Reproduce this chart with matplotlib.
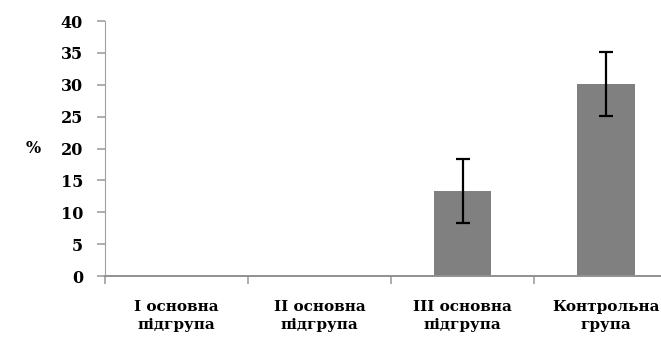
import numpy as np
import matplotlib.pyplot as plt

# Data
categories = ["I основна\nпідгрупа", "II основна\nпідгрупа", "III основна\nпідгрупа", "Контрольна\nгрупа"]
values = [0, 0, 13.3, 30.1]
errors = [0, 0, 5.0, 5.0]
yticks = [0, 5, 10, 15, 20, 25, 30, 35, 40]

fig = plt.figure(figsize=(6.61, 3.46), dpi=100)
# right edge goes past the figure, as in the cropped original
ax = fig.add_axes([0.159, 0.202, 0.866, 0.737])

x = np.arange(len(categories))
ax.bar(x, values, width=0.4, color="#808080", zorder=2)
mask = np.array(errors) > 0
ax.errorbar(x[mask], np.array(values)[mask], yerr=np.array(errors)[mask],
            fmt="none", ecolor="black", elinewidth=1.6, capsize=5, capthick=1.6, zorder=3)

ax.set_xlim(-0.5, len(categories) - 0.5)
ax.set_ylim(0, 40)
ax.set_yticks(yticks)
ax.set_yticklabels([str(v) for v in yticks], family="DejaVu Serif", fontweight="bold", fontsize=11.5)

ax.set_xticks(x)
ax.set_xticklabels(categories, family="DejaVu Serif", fontweight="bold", fontsize=11,
                   linespacing=1.4)
ax.tick_params(axis="x", length=0, pad=17)
ax.set_xticks(np.arange(-0.5, len(categories), 1.0), minor=True)
ax.tick_params(axis="x", which="minor", length=6, color="#a0a0a0", width=1.2)
ax.tick_params(axis="y", length=6, color="#a0a0a0", width=1.2, pad=10)

for s in ["top", "right"]:
    ax.spines[s].set_visible(False)
ax.spines["left"].set_color("#a0a0a0")
ax.spines["bottom"].set_color("#909090")
ax.spines["bottom"].set_linewidth(1.4)

ax.set_ylabel("%", rotation=0, family="DejaVu Serif", fontweight="bold", fontsize=11.5, va="center")
ax.yaxis.set_label_coords(-0.125, 0.5)

fig.savefig("out.png", dpi=100)
